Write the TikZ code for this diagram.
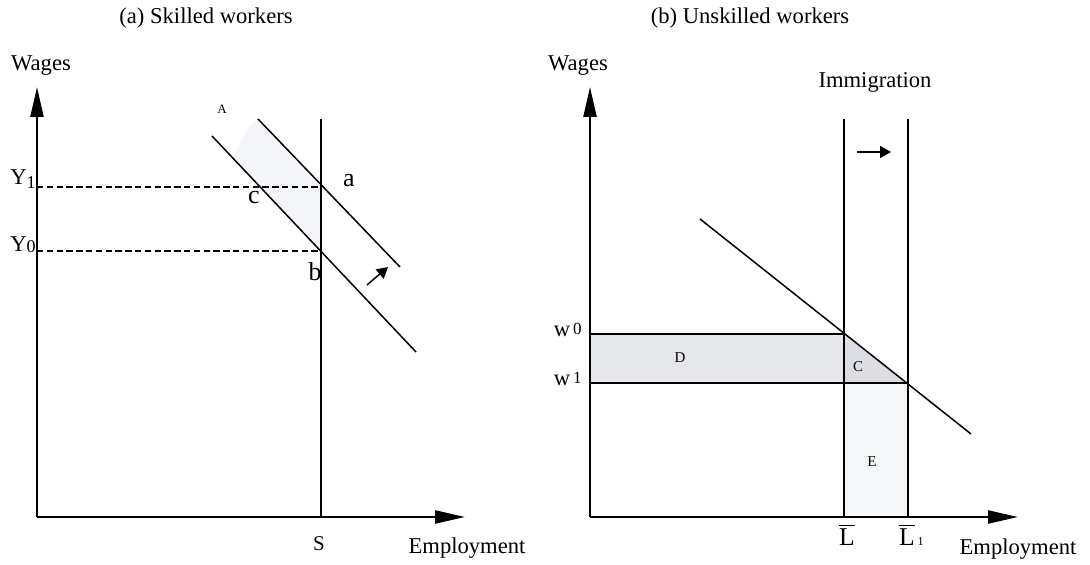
\documentclass[tikz,border=0pt]{standalone}
\usepackage{fontspec}
\setmainfont{Liberation Serif}
\usetikzlibrary{arrows.meta}
\begin{document}
\begin{tikzpicture}[x=0.5pt,y=-0.5pt,
  axis/.style={line width=1.1pt,-{Triangle[length=15pt,width=6.5pt]}},
  curve/.style={line width=0.75pt},
  guide/.style={line width=0.75pt,dash pattern=on 3.2pt off 1.7pt},
  small arrow/.style={line width=0.75pt,-{Triangle[length=5.5pt,width=6pt]}},
  lbl/.style={inner sep=0pt,font=\fontsize{11.3}{13}\selectfont},
  tiny/.style={inner sep=0pt,font=\fontsize{7.5}{9}\selectfont},
  pt/.style={inner sep=0pt,font=\fontsize{13}{15}\selectfont}]
\useasboundingbox (0,0) rectangle (1090,565);
% ---------- panel (a) ----------
\coordinate (O1) at (37,517);
\coordinate (Yt1) at (37,87);
\coordinate (Xt1) at (465,517);
\coordinate (Stop) at (321,119);
\coordinate (Sbot) at (321,517);
\coordinate (Ya) at (37,187);
\coordinate (aa) at (321,187);
\coordinate (Yb) at (37,251);
\coordinate (bb) at (321,251);
\coordinate (D0s) at (212,136);
\coordinate (D0e) at (416,352);
\coordinate (D1s) at (258,119);
\coordinate (D1e) at (400,267);
\coordinate (sh1) at (233,158);
\coordinate (sh2) at (248,128);
\coordinate (ar1) at (367,285);
\coordinate (ar2) at (388,267);
\fill[fill={rgb,255:red,244;green,245;blue,248}] (D1s) -- (aa) -- (bb) -- (sh1) -- (sh2) -- cycle;
\draw[guide] (Ya) -- (aa);
\draw[guide] (Yb) -- (bb);
\draw[curve] (Stop) -- (Sbot);
\draw[curve] (D0s) -- (D0e);
\draw[curve] (D1s) -- (D1e);
\draw[small arrow] (ar1) -- (ar2);
\draw[axis] (O1) -- (Yt1);
\draw[axis] (O1) -- (Xt1);
\node[lbl,anchor=base] (ta) at (206,24) {(a) Skilled workers};
\node[lbl,anchor=base] (wa) at (41,71) {Wages};
\node[lbl,anchor=base] (ea) at (467,553) {Employment};
\node[inner sep=0pt,font=\fontsize{10.5}{12}\selectfont,anchor=base] (sl) at (319,550) {S};
\node[inner sep=0pt,anchor=base east,font=\fontsize{11.3}{13}\selectfont] (y1) at (36,185) {Y\raisebox{-2pt}{\fontsize{9}{9}\selectfont 1}};
\node[inner sep=0pt,anchor=base east,font=\fontsize{11.3}{13}\selectfont] (y0) at (36,252) {Y\raisebox{-0.5pt}{\fontsize{9}{9}\selectfont 0}};
\node[inner sep=0pt,font=\fontsize{6.5}{8}\selectfont] (lA) at (222,109) {A};
\node[pt] (la) at (349,181) {a};
\node[pt] (lc) at (254,198) {c};
\node[pt] (lb) at (315,272) {b};
% ---------- panel (b) ----------
\coordinate (O2) at (590,517);
\coordinate (Yt2) at (590,87);
\coordinate (Xt2) at (1018,517);
\coordinate (Ltop) at (844,119);
\coordinate (Lbot) at (844,517);
\coordinate (L1top) at (908,119);
\coordinate (L1bot) at (908,517);
\coordinate (w0) at (590,334);
\coordinate (w1) at (590,383);
\coordinate (P0) at (844,334);
\coordinate (P1) at (844,383);
\coordinate (P2) at (908,383);
\coordinate (Ds) at (700,219);
\coordinate (De) at (971,434);
\coordinate (im1) at (857,152);
\coordinate (im2) at (891,152);
\fill[fill={rgb,255:red,230;green,231;blue,235}] (w0) rectangle (P1);
\fill[fill={rgb,255:red,220;green,221;blue,226}] (P0) -- (P2) -- (P1) -- cycle;
\fill[fill={rgb,255:red,245;green,246;blue,248}] (P1) rectangle (L1bot);
\draw[curve] (w0) -- (P0);
\draw[curve] (w1) -- (P2);
\draw[curve] (Ltop) -- (Lbot);
\draw[curve] (L1top) -- (L1bot);
\draw[curve] (Ds) -- (De);
\draw[small arrow] (im1) -- (im2);
\draw[axis] (O2) -- (Yt2);
\draw[axis] (O2) -- (Xt2);
\node[lbl,anchor=base] (tb) at (750,24) {(b) Unskilled workers};
\node[lbl,anchor=base] (wb) at (578,71) {Wages};
\node[lbl,anchor=base] (imm) at (875,88) {Immigration};
\node[lbl,anchor=base] (eb) at (1018,554) {Employment};
\node[inner sep=0pt,anchor=base east,font=\fontsize{11.3}{13}\selectfont] (lw0) at (582,337) {w\hspace{1.5pt}\raisebox{1.2pt}{\fontsize{8.5}{9}\selectfont 0}};
\node[inner sep=0pt,anchor=base east,font=\fontsize{11.3}{13}\selectfont] (lw1) at (582,386) {w\hspace{1.5pt}\raisebox{1.2pt}{\fontsize{8.5}{9}\selectfont 1}};
\node[tiny] (lD) at (680,358) {D};
\node[tiny] (lC) at (858,367) {C};
\node[tiny] (lE) at (872,462) {E};
\node[inner sep=0pt,anchor=base,font=\fontsize{12.8}{14}\selectfont] (lL) at (847,545) {$\overline{\mbox{L}}$};
\node[inner sep=0pt,anchor=base,font=\fontsize{12.8}{14}\selectfont] (lL1) at (907,545) {$\overline{\mbox{L}}$};
\node[inner sep=0pt,anchor=base west,font=\fontsize{6}{7}\selectfont] (lL1s) at (lL1.base east) {\,1};
\end{tikzpicture}
\end{document}
